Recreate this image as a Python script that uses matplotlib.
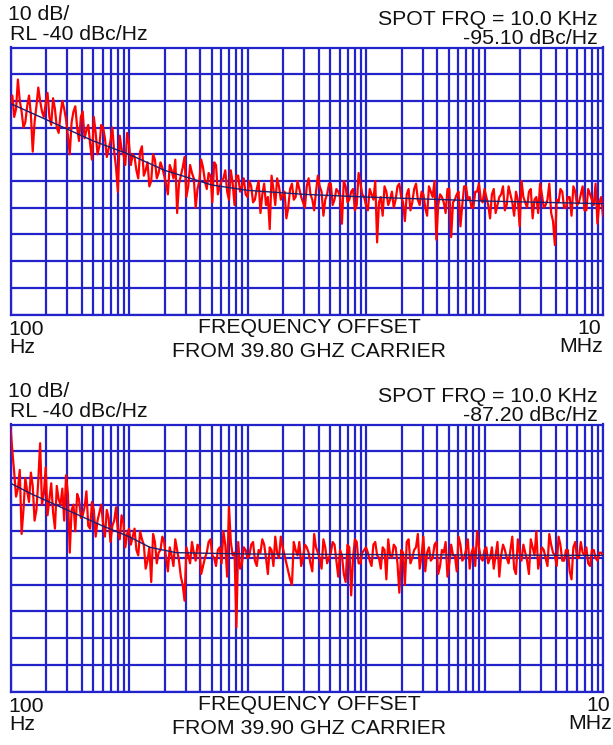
import numpy as np
import matplotlib
matplotlib.use("Agg")
import matplotlib.pyplot as plt
from matplotlib.ticker import LogLocator, NullFormatter

# ---- data (dBc/Hz), sweep 100 Hz .. 10 MHz ----
start_hz = 100
stop_hz = 10e6

# even sweep points
trace_top = [
    -61, -66, -52, -64, -68, -58, -79, -62, -60, -66, -57, -69, -63, -72, -60, -67,
    -80, -64, -70, -66, -74, -69, -82, -72, -77, -70, -81, -75, -79, -94, -78, -84, -76,
    -80, -86, -79, -88, -83, -90, -82, -87, -85, -91, -84, -89, -102, -88, -81, -92,
    -87, -100, -90, -85, -93, -88, -83, -95, -90, -86, -97, -91, -88, -94, -89, -96,
    -92, -97, -90, -95, -99, -108, -93, -89, -97, -94, -100, -91, -96, -93, -98, -92,
    -95, -101, -88, -94, -97, -91, -99, -93, -96, -90, -98, -94, -101, -87, -95, -99,
    -93, -97, -113, -96, -92, -99, -94, -97, -91, -98, -95, -101, -93, -97, -94, -100,
    -92, -96, -112, -95, -98, -93, -111, -97, -94, -99, -92, -96, -100, -94, -97, -93,
    -99, -95, -102, -96, -92, -99, -95, -103, -97, -90, -98, -94, -104, -96, -91, -100,
    -97, -102, -114, -98, -94, -100, -96, -92, -99, -95, -101, -93, -97, -91, -98, -103,
]
# odd sweep points (between the even ones)
trace_top_mid = [
    -58, -63, -60, -70, -62, -65, -68, -55, -64, -61, -66, -59, -70, -65, -63, -73,
    -68, -62, -75, -64, -71, -76, -66, -80, -69, -74, -78, -70, -85, -73, -80, -72,
    -84, -81, -89, -77, -86, -92, -80, -89, -83, -88, -95, -86, -82, -91, -85, -96,
    -84, -89, -93, -82, -90, -87, -98, -84, -92, -89, -94, -86, -99, -88, -92, -95,
    -90, -98, -93, -102, -91, -96, -88, -99, -92, -95, -104, -93, -97, -90, -96, -100,
    -89, -97, -94, -92, -103, -95, -91, -97, -94, -106, -92, -97, -93, -99, -91, -96,
    -101, -95, -90, -98, -103, -94, -97, -100, -92, -96, -105, -93, -98, -91, -99, -95,
    -103, -94, -90, -99, -96, -102, -93, -98, -95, -107, -92, -97, -100, -94, -91, -98,
    -96, -104, -93, -99, -95, -101, -92, -98, -94, -107, -96, -100, -93, -97, -102, -95,
    -99, -91, -105, -97, -93, -100, -96, -103, -94, -98, -92, -101, -95, -99, -106, -96,
]

trace_bot = [
    -41, -58, -64, -81, -60, -69, -63, -72, -47, -66, -74, -62, -79, -68, -64, -59,
    -88, -70, -66, -75, -71, -78, -69, -82, -73, -77, -72, -84, -76, -80, -74, -86, -79,
    -82, -87, -80, -85, -91, -99, -84, -88, -82, -90, -86, -93, -87, -97, -106, -89,
    -84, -91, -86, -93, -88, -83, -90, -87, -92, -85, -71, -89, -116, -94, -86, -90,
    -85, -91, -87, -83, -90, -86, -93, -88, -82, -89, -95, -100, -87, -84, -90, -86,
    -92, -81, -88, -94, -86, -90, -84, -91, -87, -96, -85, -104, -83, -92, -88, -86,
    -91, -85, -89, -94, -87, -83, -90, -86, -103, -88, -84, -92, -87, -81, -89, -95,
    -86, -90, -84, -93, -88, -97, -85, -89, -82, -91, -87, -94, -86, -80, -90, -87,
    -92, -86, -89, -97, -85, -90, -87, -94, -83, -91, -88, -96, -86, -80, -90, -87,
    -93, -85, -89, -82, -91, -87, -95, -86, -90, -84, -89, -92, -87, -90, -88, -89,
]
trace_bot_mid = [
    -50, -67, -57, -72, -65, -58, -76, -61, -70, -56, -68, -73, -63, -70, -76, -66,
    -72, -80, -68, -74, -65, -79, -72, -76, -70, -82, -75, -78, -71, -83, -77, -81,
    -85, -79, -89, -83, -94, -86, -81, -92, -87, -84, -95, -89, -83, -91, -100, -86,
    -92, -88, -85, -96, -90, -84, -89, -93, -86, -80, -97, -84, -88, -84, -92, -87,
    -89, -84, -93, -88, -85, -96, -87, -82, -90, -86, -92, -98, -84, -89, -93, -85,
    -88, -95, -86, -90, -83, -92, -88, -85, -97, -89, -99, -86, -90, -84, -92, -87,
    -88, -93, -84, -90, -86, -98, -89, -85, -92, -87, -100, -83, -90, -86, -94, -82,
    -88, -91, -85, -96, -87, -84, -92, -89, -95, -85, -90, -83, -88, -93, -86, -91,
    -86, -90, -94, -84, -89, -87, -92, -82, -96, -88, -85, -91, -83, -89, -94, -86,
    -90, -81, -88, -93, -85, -91, -87, -98, -84, -90, -88, -86, -93, -87, -91, -88,
]

# smoothed curves (frequency Hz, dBc/Hz)
smooth_top_f = [100, 200, 500, 1e3, 2e3, 5e3, 1e4, 3e4, 1e5, 1e6, 1e7]
smooth_top_db = [-61, -67, -75, -80, -86, -91.5, -93.5, -95, -96, -97.5, -98.5]
smooth_bot_f = [100, 150, 300, 600, 1e3, 1.5e3, 2.5e3, 1e4, 1e5, 1e6, 1e7]
smooth_bot_db = [-62, -66, -72, -78, -82, -86, -88, -88.5, -88.7, -88.9, -89]

carriers = ["39.80", "39.90"]
spot_values = ["-95.10", "-87.20"]

W, H = 613, 745
GRID = "#2323cc"
FONT = "Liberation Sans"
FS = 15.3

fig = plt.figure(figsize=(W / 100, H / 100), dpi=100)


def ftext(x, y, s, ha="left"):
    # x, y in pixels from top-left, y is the baseline
    fig.text(x / W, 1 - y / H, s, ha=ha, va="baseline", fontsize=FS,
             family=FONT, color="#111111")


def merge(even, odd):
    out = np.empty(len(even) + len(odd))
    out[0::2] = even
    out[1::2] = odd
    return out


def panel(top_px, trace, sf, sdb, carrier, spot, dy, right_x):
    left, right, bottom = 10.5, 603, top_px + 267
    ax = fig.add_axes([left / W, 1 - bottom / H, (right - left) / W, 267 / H])
    freqs = np.logspace(np.log10(start_hz), np.log10(stop_hz), len(trace))
    ax.plot(freqs, trace, color="#ff0000", lw=1.6, zorder=3)
    ax.plot(sf, sdb, color="#1c1c70", lw=1.0, zorder=4)
    ax.set_xscale("log")
    ax.set_xlim(start_hz, stop_hz)
    ax.set_ylim(-140, -40)
    ax.xaxis.set_major_locator(LogLocator(base=10))
    ax.xaxis.set_minor_locator(LogLocator(base=10, subs=np.arange(2, 10)))
    ax.xaxis.set_minor_formatter(NullFormatter())
    ax.set_yticks(np.arange(-140, -39, 10))
    ax.tick_params(which="both", length=0, labelbottom=False, labelleft=False)
    ax.grid(which="both", axis="x", color=GRID, lw=1.6)
    ax.grid(which="major", axis="y", color=GRID, lw=1.6)
    ax.set_axisbelow(True)
    for sp in ax.spines.values():
        sp.set_color(GRID)
        sp.set_linewidth(1.6)

    ftext(8, dy + 20, "10 dB/")
    ftext(10, dy + 40, "RL -40 dBc/Hz")
    ftext(598, dy + 25, "SPOT FRQ = 10.0 KHz", ha="right")
    ftext(598, dy + 44, spot + " dBc/Hz", ha="right")
    ftext(8, dy + 335, "100")
    ftext(9, dy + 353, "Hz")
    ftext(309, dy + 333, "FREQUENCY OFFSET", ha="center")
    ftext(309, dy + 357, "FROM " + carrier + " GHZ CARRIER", ha="center")
    ftext(right_x, dy + 334, "10", ha="right")
    ftext(right_x + 2, dy + 352, "MHz", ha="right")


panel(47.5, merge(trace_top, trace_top_mid), smooth_top_f, smooth_top_db,
      carriers[0], spot_values[0], 0, 601)
panel(424.5, merge(trace_bot, trace_bot_mid), smooth_bot_f, smooth_bot_db,
      carriers[1], spot_values[1], 377, 610)

fig.savefig("out.png", dpi=100, facecolor="white")
